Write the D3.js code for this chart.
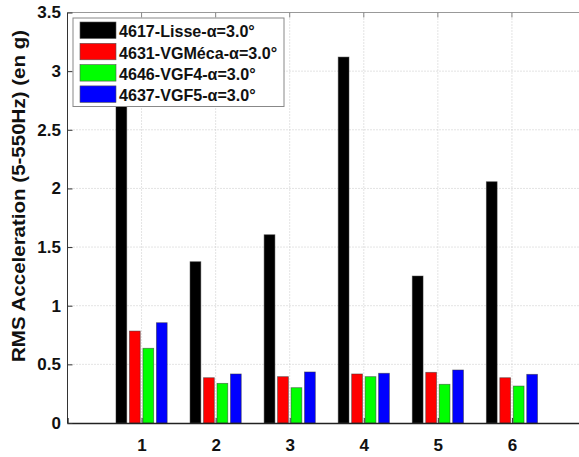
<!DOCTYPE html>
<html>
<head>
<meta charset="utf-8">
<script src="https://cdn.jsdelivr.net/npm/d3@7"></script>
<style>
  html, body { margin: 0; padding: 0; background: #fff; }
  svg { display: block; font-family: "Liberation Sans", Arial, sans-serif; }
</style>
</head>
<body>
<svg id="chart" width="579" height="457"></svg>
<script>
// Test cases on the x axis
const categories = [1, 2, 3, 4, 5, 6];

// Series names (legend) and fill colours
const seriesNames = [
  "4617-Lisse-\u03b1=3.0\u00b0",
  "4631-VGM\u00e9ca-\u03b1=3.0\u00b0",
  "4646-VGF4-\u03b1=3.0\u00b0",
  "4637-VGF5-\u03b1=3.0\u00b0"
];
const seriesColors = ["#000000", "#ff0000", "#00ff00", "#0000ff"];

// RMS acceleration values (g), one array per series
const lisse  = [3.05, 1.375, 1.605, 3.12, 1.253, 2.057];
const vgMeca = [0.784, 0.386, 0.395, 0.418, 0.432, 0.386];
const vgf4   = [0.637, 0.338, 0.301, 0.395, 0.330, 0.315];
const vgf5   = [0.855, 0.418, 0.435, 0.424, 0.452, 0.415];
const seriesValues = [lisse, vgMeca, vgf4, vgf5];

// Axis ticks
const yTicks = [0, 0.5, 1, 1.5, 2, 2.5, 3, 3.5];
const yTickLabels = ["0", "0.5", "1", "1.5", "2", "2.5", "3", "3.5"];
const xTickLabels = ["1", "2", "3", "4", "5", "6"];

const yLabel = "RMS Acceleration (5-550Hz) (en g)";

const svg = d3.select("#chart");

const plot = { left: 67.5, right: 586, top: 12.5, bottom: 423 };

const x = d3.scaleLinear().domain([0, 7]).range([plot.left, plot.right]);
const y = d3.scaleLinear().domain([0, 3.5]).range([plot.bottom, plot.top]);

// Grouped bar geometry: group width and per-bar step in data units
const nSeries = seriesValues.length;
const groupWidth = Math.min(0.8, nSeries / (nSeries + 1.5));
const step = groupWidth / nSeries;
const barWidth = step * 0.8;

// Dotted grid
const grid = svg.append("g");
grid.selectAll("line.h").data(yTicks.slice(1, -1)).join("line")
  .attr("x1", plot.left).attr("x2", plot.right)
  .attr("y1", d => y(d)).attr("y2", d => y(d))
  .attr("stroke", "#c8c8c8").attr("stroke-width", 1)
  .attr("stroke-dasharray", "1,2");
grid.selectAll("line.v").data(categories).join("line")
  .attr("x1", d => x(d)).attr("x2", d => x(d))
  .attr("y1", plot.top).attr("y2", plot.bottom)
  .attr("stroke", "#c8c8c8").attr("stroke-width", 1)
  .attr("stroke-dasharray", "1,2");

// Bars
seriesValues.forEach((vals, si) => {
  svg.append("g").selectAll("rect").data(vals).join("rect")
    .attr("x", (d, i) => x(categories[i] + (si - (nSeries - 1) / 2) * step - barWidth / 2))
    .attr("width", x(barWidth) - x(0))
    .attr("y", d => y(d))
    .attr("height", d => y(0) - y(d))
    .attr("fill", seriesColors[si])
    .attr("stroke", "#333")
    .attr("stroke-opacity", 0.6)
    .attr("stroke-width", 0.8);
});

// Axes box
const frame = svg.append("g");
frame.append("line")
  .attr("x1", plot.left).attr("x2", plot.right)
  .attr("y1", plot.top).attr("y2", plot.top)
  .attr("stroke", "#999").attr("stroke-width", 1);
frame.append("line")
  .attr("x1", plot.left).attr("x2", plot.left)
  .attr("y1", plot.top).attr("y2", plot.bottom)
  .attr("stroke", "#333").attr("stroke-width", 1);

const tickFont = sel => sel
  .attr("font-size", 17).attr("font-weight", "bold").attr("fill", "#111")
  .attr("font-family", "Liberation Sans, Arial, sans-serif");

// Bottom axis
const xAxis = d3.axisBottom(x)
  .tickValues(categories)
  .tickFormat((d, i) => xTickLabels[i])
  .tickSize(-5)
  .tickPadding(16);
const gx = svg.append("g")
  .attr("transform", `translate(0,${plot.bottom})`)
  .call(xAxis);
gx.select(".domain").attr("stroke", "#222").attr("stroke-width", 1.3);
gx.selectAll(".tick line").attr("stroke", "#333");
gx.selectAll(".tick text").call(tickFont);

// Top ticks
svg.append("g").selectAll("line").data(categories).join("line")
  .attr("x1", d => x(d)).attr("x2", d => x(d))
  .attr("y1", plot.top).attr("y2", plot.top + 5)
  .attr("stroke", "#888");

// Left axis
const yAxis = d3.axisLeft(y)
  .tickValues(yTicks)
  .tickFormat((d, i) => yTickLabels[i])
  .tickSize(-5)
  .tickPadding(6.5);
const gy = svg.append("g")
  .attr("transform", `translate(${plot.left},0)`)
  .call(yAxis);
gy.select(".domain").remove();
gy.selectAll(".tick line").attr("stroke", "#333");
gy.selectAll(".tick text").call(tickFont);

// Y axis title
svg.append("text")
  .attr("transform", "translate(25,196) rotate(-90)")
  .attr("text-anchor", "middle")
  .attr("font-size", 18).attr("font-weight", "bold").attr("fill", "#111")
  .attr("textLength", 332).attr("lengthAdjust", "spacingAndGlyphs")
  .text(yLabel);

// Legend
const legend = svg.append("g").attr("transform", "translate(73,18)");
legend.append("rect")
  .attr("x", 0).attr("y", 0).attr("width", 211).attr("height", 88.5)
  .attr("fill", "#fff").attr("stroke", "#888").attr("stroke-width", 1);
const rows = legend.selectAll("g.row").data(seriesNames).join("g")
  .attr("transform", (d, i) => `translate(7,${4 + i * 21.3})`);
rows.append("rect")
  .attr("width", 36).attr("height", 16.5)
  .attr("fill", (d, i) => seriesColors[i])
  .attr("stroke", "#555").attr("stroke-width", 0.6);
rows.append("text")
  .attr("x", 39).attr("y", 15.3)
  .attr("font-size", 16.1).attr("font-weight", "bold").attr("fill", "#111")
  .text(d => d);
</script>
</body>
</html>
